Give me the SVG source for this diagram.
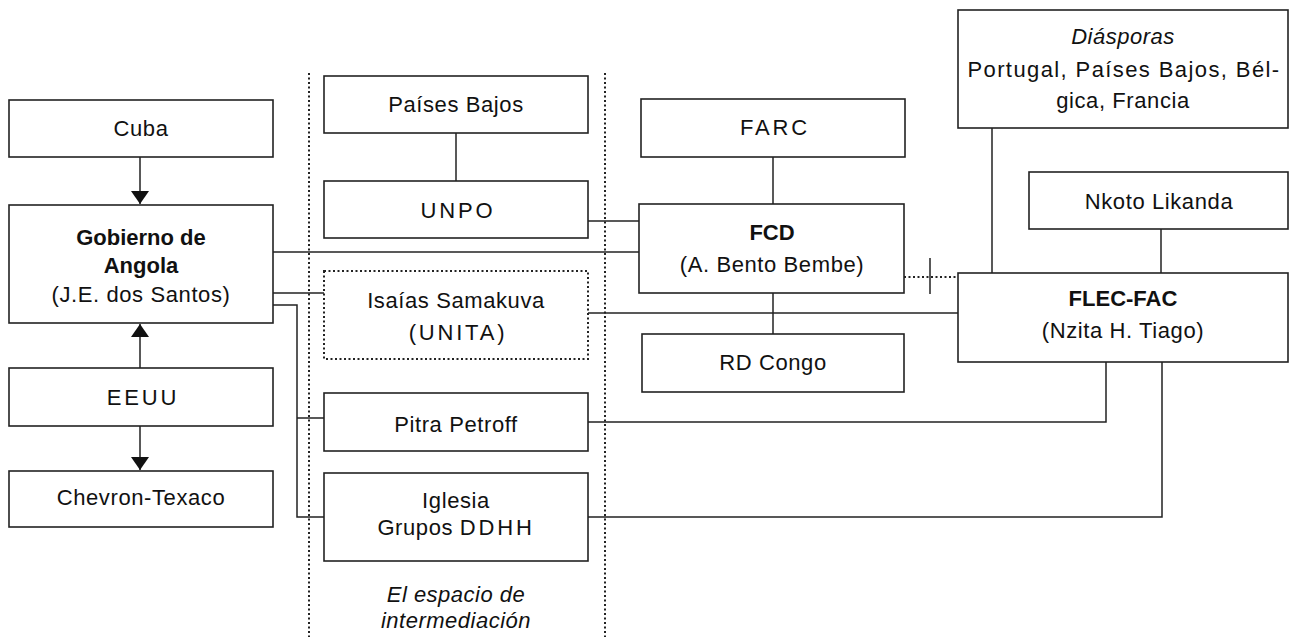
<svg xmlns="http://www.w3.org/2000/svg" width="1292" height="637" viewBox="0 0 1292 637">
<defs>
<style>
.box{fill:#fff;stroke:#222;stroke-width:1.6}
.dbox{fill:#fff;stroke:#222;stroke-width:2;stroke-dasharray:2 2.5}
.ln{fill:none;stroke:#222;stroke-width:1.5}
.dot{fill:none;stroke:#222;stroke-width:2;stroke-dasharray:2 2.5}
text{font-family:"Liberation Sans",Arial,sans-serif;font-size:22px;fill:#111;text-anchor:middle;letter-spacing:0.6px}
.b{font-weight:bold;font-size:22px;letter-spacing:0}
.sp{letter-spacing:2.8px}
.it{font-style:italic;letter-spacing:0.5px}
</style>
<marker id="ah" markerWidth="14" markerHeight="18" refX="13" refY="9" orient="auto" markerUnits="userSpaceOnUse">
<path d="M0,0 L13,9 L0,18 Z" fill="#111"/>
</marker>
</defs>
<rect width="1292" height="637" fill="#fff"/>

<g id="mediation-space">
<line class="dot" x1="309" y1="73" x2="309" y2="637"/>
<line class="dot" x1="605" y1="73" x2="605" y2="637"/>
<text class="it" x="456" y="602">El espacio de</text>
<text class="it" x="456" y="628">intermediación</text>
</g>

<g id="connectors">
<line class="ln" x1="140" y1="157" x2="140" y2="204" marker-end="url(#ah)"/>
<line class="ln" x1="140" y1="368" x2="140" y2="324" marker-end="url(#ah)"/>
<line class="ln" x1="140" y1="426" x2="140" y2="470" marker-end="url(#ah)"/>
<line class="ln" x1="456" y1="133" x2="456" y2="181"/>
<line class="ln" x1="773" y1="157" x2="773" y2="204"/>
<line class="ln" x1="773" y1="293" x2="773" y2="334"/>
<line class="ln" x1="992" y1="128" x2="992" y2="273"/>
<line class="ln" x1="1161" y1="229" x2="1161" y2="273"/>
<polyline class="ln" points="588,221 639,221"/>
<polyline class="ln" points="273,252 639,252"/>
<polyline class="ln" points="273,293 324,293"/>
<polyline class="ln" points="588,313 958,313"/>
<polyline class="ln" points="273,305 297,305 297,517 324,517"/>
<polyline class="ln" points="297,418 324,418"/>
<polyline class="ln" points="588,422 1106,422 1106,362"/>
<polyline class="ln" points="588,517 1162,517 1162,362"/>
<line class="dot" x1="904" y1="277" x2="958" y2="277"/>
<line class="ln" x1="930" y1="258" x2="930" y2="294"/>
</g>

<g id="cuba"><rect class="box" x="9" y="100" width="264" height="57"/><text x="141" y="136">Cuba</text></g>
<g id="gobierno"><rect class="box" x="9" y="205" width="264" height="118"/>
<text class="b" x="141" y="245">Gobierno de</text><text class="b" x="141" y="273">Angola</text><text x="141" y="302">(J.E. dos Santos)</text></g>
<g id="eeuu"><rect class="box" x="9" y="368" width="264" height="58"/><text class="sp" x="143" y="405">EEUU</text></g>
<g id="chevron"><rect class="box" x="9" y="471" width="264" height="56"/><text x="141" y="505">Chevron-Texaco</text></g>

<g id="paises-bajos"><rect class="box" x="324" y="76" width="264" height="57"/><text x="456" y="112">Países Bajos</text></g>
<g id="unpo"><rect class="box" x="324" y="181" width="264" height="57"/><text class="sp" x="458" y="218">UNPO</text></g>
<g id="isaias"><rect class="dbox" x="324" y="271" width="264" height="88"/><text x="456" y="308">Isaías Samakuva</text><text class="sp" x="458" y="340">(UNITA)</text></g>
<g id="pitra"><rect class="box" x="324" y="393" width="264" height="58"/><text x="456" y="432">Pitra Petroff</text></g>
<g id="iglesia"><rect class="box" x="324" y="473" width="264" height="88"/><text x="456" y="508">Iglesia</text><text x="456" y="535">Grupos <tspan class="sp">DDHH</tspan></text></g>

<g id="farc"><rect class="box" x="641" y="99" width="264" height="58"/><text class="sp" x="775" y="135">FARC</text></g>
<g id="fcd"><rect class="box" x="639" y="204" width="265" height="89"/><text class="b" x="772" y="240">FCD</text><text x="772" y="272">(A. Bento Bembe)</text></g>
<g id="rd-congo"><rect class="box" x="642" y="334" width="262" height="58"/><text x="773" y="370">RD Congo</text></g>

<g id="diasporas"><rect class="box" x="958" y="10" width="330" height="118"/>
<text class="it" x="1123" y="44">Diásporas</text><text x="1124" y="77" style="letter-spacing:1.4px">Portugal, Países Bajos, Bél-</text><text x="1123" y="108">gica, Francia</text></g>
<g id="nkoto"><rect class="box" x="1029" y="172" width="259" height="57"/><text x="1159" y="209">Nkoto Likanda</text></g>
<g id="flec"><rect class="box" x="958" y="273" width="330" height="89"/><text class="b" x="1123" y="306">FLEC-FAC</text><text x="1123" y="338">(Nzita H. Tiago)</text></g>
</svg>
